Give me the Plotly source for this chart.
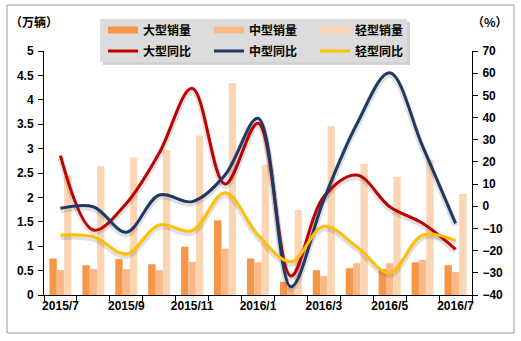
import plotly.graph_objects as go

# Monthly truck sales (10k units) and year-on-year growth (%)
months = ["2015/7", "2015/8", "2015/9", "2015/10", "2015/11", "2015/12",
          "2016/1", "2016/2", "2016/3", "2016/4", "2016/5", "2016/6", "2016/7"]
tick_labels = ["2015/7", "", "2015/9", "", "2015/11", "", "2016/1", "",
               "2016/3", "", "2016/5", "", "2016/7"]

heavy_sales = [0.75, 0.61, 0.74, 0.63, 0.99, 1.53, 0.75, 0.27, 0.51, 0.55, 0.53, 0.67, 0.61]
medium_sales = [0.51, 0.53, 0.53, 0.51, 0.68, 0.95, 0.67, 0.17, 0.39, 0.65, 0.65, 0.72, 0.47]
light_sales = [2.45, 2.64, 2.82, 2.97, 3.27, 4.34, 2.67, 1.74, 3.46, 2.69, 2.42, 2.77, 2.07]

heavy_yoy = [22.8, -10.7, 1.3, 24.0, 53.2, 10.0, 37.4, -31.4, 4.3, 14.1, -0.2, -7.7, -19.4]
medium_yoy = [-0.9, -0.2, -11.7, 5.1, 2.1, 14.1, 39.7, -36.3, 3.0, 37.0, 60.2, 27.0, -7.7]
light_yoy = [-13.0, -13.7, -21.5, -8.4, -11.0, 6.1, -13.0, -25.0, -9.0, -18.2, -30.0, -13.0, -15.5]

bar_names = ["大型销量", "中型销量", "轻型销量"]
line_names = ["大型同比", "中型同比", "轻型同比"]

bar_colors = ["#F79646", "#FAB987", "#FCD5B5"]
line_colors = ["#C00000", "#1F3864", "#FFC000"]

W, H = 521, 341
L, R, T, B = 44, 49, 51, 46
PW, PH = W - L - R, H - T - B


def px_x(px):
    return (px - L) / PW


def px_y(py):
    return (H - B - py) / PH


TICK_FONT = dict(family="Liberation Sans, Arial", size=12, color="#000000", weight="bold")
CJK_FONT = dict(family="Noto Sans CJK SC", size=12, color="#000000", weight="bold")

fig = go.Figure()

# Sales bars on the left axis
for name, vals, col in zip(bar_names, [heavy_sales, medium_sales, light_sales], bar_colors):
    fig.add_trace(go.Bar(x=months, y=vals, name=name, marker=dict(color=col, line=dict(width=0)),
                         showlegend=False, xaxis="x", yaxis="y"))

# Soft shadows under the growth lines (axis range nudged so they sit slightly lower)
for vals in [heavy_yoy, medium_yoy, light_yoy]:
    fig.add_trace(go.Scatter(x=months, y=vals, mode="lines",
                             line=dict(color="rgba(60,60,60,0.16)", width=6, shape="spline", smoothing=1.0),
                             showlegend=False, hoverinfo="skip", xaxis="x", yaxis="y2"))

# Growth lines on the right axis
for name, vals, col in zip(line_names, [heavy_yoy, medium_yoy, light_yoy], line_colors):
    fig.add_trace(go.Scatter(x=months, y=vals, name=name, mode="lines",
                             line=dict(color=col, width=3, shape="spline", smoothing=1.0),
                             legend="legend2", xaxis="x", yaxis="y3"))

# Legend swatches for the bar series (wide flat bars)
for name, col in zip(bar_names, bar_colors):
    fig.add_trace(go.Scatter(x=[None], y=[None], name=name, mode="lines",
                             line=dict(color=col, width=7), legend="legend",
                             xaxis="x", yaxis="y"))

shadow_shift = 2 * 110 / PH

legend_common = dict(orientation="h", bgcolor="rgba(0,0,0,0)", borderwidth=0,
                     font=CJK_FONT, entrywidth=61, entrywidthmode="pixels",
                     xanchor="left", yanchor="middle", itemclick=False, itemdoubleclick=False)

fig.update_layout(
    width=W, height=H,
    margin=dict(l=L, r=R, t=T, b=B, pad=0, autoexpand=False),
    paper_bgcolor="white", plot_bgcolor="rgba(0,0,0,0)",
    barmode="group", bargap=0.33, bargroupgap=0,
    showlegend=True,
    legend=dict(x=px_x(103), y=px_y(30), **legend_common),
    legend2=dict(x=px_x(103), y=px_y(51), **legend_common),
    xaxis=dict(type="category", categoryorder="array", categoryarray=months,
               range=[-0.5, len(months) - 0.5],
               tickmode="array", tickvals=months, ticktext=tick_labels,
               tickson="boundaries", ticks="outside", ticklen=5, tickcolor="#000000",
               showline=True, linecolor="#000000", linewidth=1,
               showgrid=False, zeroline=False, tickfont=TICK_FONT, tickangle=0),
    yaxis=dict(range=[0, 5], dtick=0.5, tick0=0, ticks="outside", ticklen=5,
               tickcolor="#000000", showline=True, linecolor="#000000", linewidth=1,
               showgrid=False, zeroline=False, tickfont=TICK_FONT, ticklabelstandoff=2),
    yaxis2=dict(overlaying="y", range=[-40 + shadow_shift, 70 + shadow_shift],
                visible=False, showgrid=False, zeroline=False),
    yaxis3=dict(overlaying="y", side="right", anchor="x", range=[-40, 70], dtick=10, tick0=0,
                ticks="outside", ticklen=5, tickcolor="#000000",
                showline=True, linecolor="#000000", linewidth=1,
                showgrid=False, zeroline=False, tickfont=TICK_FONT, ticklabelstandoff=2),
    shapes=[
        # outer chart frame
        dict(type="rect", xref="paper", yref="paper", layer="below",
             x0=px_x(7), x1=px_x(514), y0=px_y(333), y1=px_y(5),
             line=dict(color="#9A9A9A", width=1), fillcolor="rgba(0,0,0,0)"),
        # legend box shadow
        dict(type="rect", xref="paper", yref="paper", layer="below",
             x0=px_x(103), x1=px_x(410), y0=px_y(65), y1=px_y(22),
             line=dict(width=0), fillcolor="rgba(0,0,0,0.18)"),
        # legend box
        dict(type="rect", xref="paper", yref="paper", layer="below",
             x0=px_x(100), x1=px_x(407), y0=px_y(62), y1=px_y(19),
             line=dict(width=0), fillcolor="#DCDCDC"),
    ],
    annotations=[
        dict(text="（万辆）", xref="paper", yref="paper", x=px_x(34), y=px_y(22),
             showarrow=False, font=CJK_FONT, xanchor="center", yanchor="middle"),
        dict(text="（%）", xref="paper", yref="paper", x=px_x(490), y=px_y(22),
             showarrow=False, font=CJK_FONT, xanchor="center", yanchor="middle"),
    ],
)

fig.write_html("out.html")
